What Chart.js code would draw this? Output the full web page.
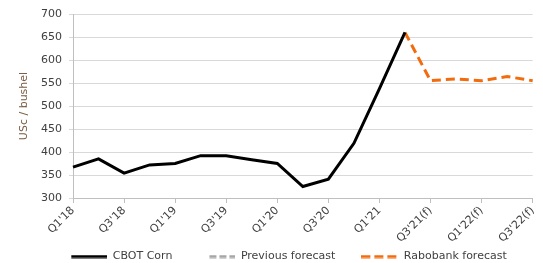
<!DOCTYPE html>
<html>
<head>
<meta charset="utf-8">
<script src="https://cdn.jsdelivr.net/npm/chart.js@4"></script>
<style>
  html, body { margin: 0; padding: 0; background: #fff; }
  #wrap { width: 543px; height: 263px; }
</style>
</head>
<body>
<div id="wrap"><canvas id="cornChart"></canvas></div>
<script>
// quarters on the x axis
const quarters = ["Q1'18", "Q2'18", "Q3'18", "Q4'18", "Q1'19", "Q2'19", "Q3'19", "Q4'19",
    "Q1'20", "Q2'20", "Q3'20", "Q4'20", "Q1'21", "Q2'21",
    "Q3'21(f)", "Q4'21(f)", "Q1'22(f)", "Q2'22(f)", "Q3'22(f)"];

// USc / bushel
const cbotCorn = [367, 385, 354, 372, 375, 392, 392, 383, 375, 325, 341, 419, 538, 660,
    null, null, null, null, null];
const previousForecast = [null, null, null, null, null, null, null, null, null, null, null,
    null, null, null, null, null, null, null, null];
const raboForecast = [null, null, null, null, null, null, null, null, null, null, null,
    null, null, 660, 555, 559, 555, 564, 555];

const yTicks = [300, 350, 400, 450, 500, 550, 600, 650, 700];

Chart.defaults.font.family = "'DejaVu Sans', Verdana, sans-serif";
Chart.defaults.font.size = 11;
Chart.defaults.color = "#404040";

// legend swatch: a line (maybe dashed) on a small offscreen canvas
function swatch(color, dash, from) {
    const c = document.createElement("canvas");
    c.width = 37;
    c.height = 4;
    const g = c.getContext("2d");
    g.strokeStyle = color;
    g.lineWidth = 3;
    g.setLineDash(dash);
    g.beginPath();
    g.moveTo(from, 2);
    g.lineTo(37, 2);
    g.stroke();
    return c;
}

new Chart(document.getElementById("cornChart"), {
    type: "line",
    data: {
        labels: quarters,
        datasets: [{
            label: "CBOT Corn",
            data: cbotCorn,
            borderColor: "#000000",
            backgroundColor: "#000000",
            borderWidth: 3,
            pointRadius: 0,
            pointStyle: swatch("#000000", [], 1),
            tension: 0
        }, {
            label: "Previous forecast",
            data: previousForecast,
            borderColor: "#a6a6a6",
            backgroundColor: "#a6a6a6",
            borderWidth: 3,
            borderDash: [7, 3],
            pointRadius: 0,
            pointStyle: swatch("#a6a6a6", [7, 3], 11)
        }, {
            label: "Rabobank forecast",
            data: raboForecast,
            borderColor: "#f26c0d",
            backgroundColor: "#f26c0d",
            borderWidth: 3,
            borderDash: [9, 5],
            pointRadius: 0,
            pointStyle: swatch("#f26c0d", [9, 4], 0)
        }]
    },
    options: {
        responsive: true,
        maintainAspectRatio: false,
        animation: false,
        layout: { padding: { left: 38, right: 4, top: 14, bottom: 0 } },
        plugins: {
            tooltip: { enabled: false },
            legend: {
                position: "bottom",
                maxHeight: 38,
                labels: {
                    usePointStyle: true,
                    pointStyleWidth: 37,
                    padding: 26,
                    color: "#404040",
                    font: { size: 11 }
                }
            }
        },
        scales: {
            x: {
                afterFit: function (axis) {
                    axis.height = 27;
                    axis._computeLabelArea = function () { return undefined; };
                },
                grid: { drawOnChartArea: false, drawTicks: true, tickLength: 5, color: "#bfbfbf" },
                border: { color: "#bfbfbf" },
                ticks: {
                    autoSkip: false,
                    maxRotation: 45,
                    minRotation: 45,
                    padding: 1,
                    color: "#404040",
                    callback: function (val, i) { return i % 2 === 0 ? quarters[i] : null; }
                }
            },
            y: {
                min: yTicks[0],
                max: yTicks[yTicks.length - 1],
                afterBuildTicks: function (axis) { axis.ticks = yTicks.map(v => ({ value: v })); },
                afterFit: function (axis) { axis.width = 35; },
                grid: { color: "#d9d9d9", tickLength: 4 },
                border: { color: "#bfbfbf" },
                ticks: { padding: 7, color: "#404040" },
                title: {
                    display: true,
                    text: "USc / bushel",
                    color: "#7a5a40",
                    padding: { top: -20, bottom: 0 },
                    font: { size: 11 }
                }
            }
        }
    }
});
</script>
</body>
</html>
